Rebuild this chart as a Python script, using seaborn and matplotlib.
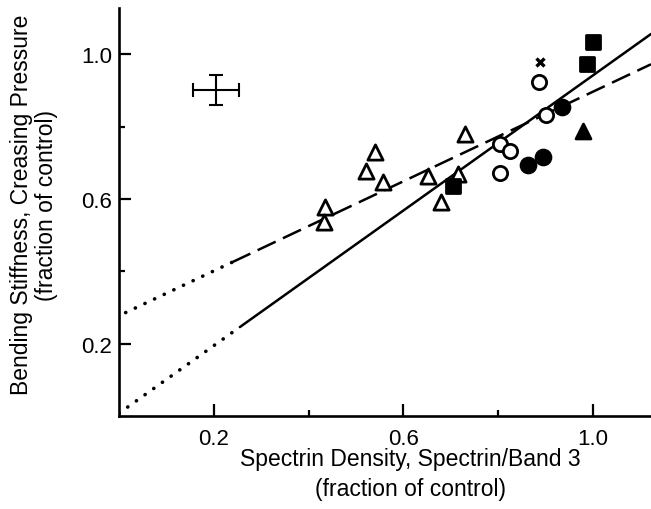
import matplotlib
matplotlib.use('Agg')
import matplotlib.pyplot as plt
import numpy as np
import pandas as pd
import seaborn as sns

# open triangles
tri_open_x = [0.434, 0.432, 0.541, 0.522, 0.556, 0.652, 0.679, 0.715, 0.730]
tri_open_y = [0.578, 0.537, 0.730, 0.677, 0.648, 0.663, 0.592, 0.669, 0.779]
# open circles
circ_open_x = [0.887, 0.902, 0.803, 0.824, 0.803]
circ_open_y = [0.923, 0.832, 0.752, 0.732, 0.672]
# filled circles
circ_fill_x = [0.934, 0.862, 0.894]
circ_fill_y = [0.853, 0.694, 0.716]
# filled squares
sq_fill_x = [0.705, 1.001, 0.988]
sq_fill_y = [0.636, 1.033, 0.972]
# filled triangle
tri_fill_x = [0.980]
tri_fill_y = [0.788]
# cross marker
cross_x = [0.889]
cross_y = [0.978]

# typical error bars
err_x, err_y = 0.205, 0.901
err_dx, err_dy = 0.048, 0.041

# fitted lines: slope, intercept, dotted range start, solid/dashed start, end
solid_fit = dict(slope=0.932, icpt=0.009, x0=0.0, x1=0.255, x2=1.1225)
dash_fit = dict(slope=0.618, icpt=0.278, x0=0.014, x1=0.239, x2=1.1225)

sns.set_style('ticks')
plt.rcParams['font.family'] = ['Liberation Sans', 'DejaVu Sans']
for key in ['text.color', 'axes.labelcolor', 'xtick.color', 'ytick.color',
            'axes.edgecolor']:
  plt.rcParams[key] = 'black'

fig = plt.figure(figsize=(6.51, 5.10), dpi=100)
ax = fig.add_axes([0.1828, 0.1814, 0.8172, 0.801])

lw = 1.8
for fit, style in [(solid_fit, '-'), (dash_fit, (0, (8, 3.2)))]:
  xs_dot = np.array([fit['x0'], fit['x1']])
  xs_main = np.array([fit['x1'], fit['x2']])
  ax.plot(xs_dot, fit['icpt'] + fit['slope'] * xs_dot, color='black', lw=2.6,
          linestyle=(0, (0.05, 2.9)), dash_capstyle='round')
  ax.plot(xs_main, fit['icpt'] + fit['slope'] * xs_main, color='black', lw=lw,
          linestyle=style)

groups = [
  (tri_open_x, tri_open_y, '^', 'white', 120),
  (circ_open_x, circ_open_y, 'o', 'white', 105),
  (circ_fill_x, circ_fill_y, 'o', 'black', 115),
  (sq_fill_x, sq_fill_y, 's', 'black', 90),
  (tri_fill_x, tri_fill_y, '^', 'black', 115),
]
for gx, gy, mk, fc, size in groups:
  df = pd.DataFrame({'x': gx, 'y': gy})
  sns.scatterplot(data=df, x='x', y='y', marker=mk, s=size, color=fc,
                  edgecolor='black', linewidth=2.0, ax=ax, zorder=3)

ax.plot(cross_x, cross_y, marker='x', linestyle='None', color='black',
        markersize=6, markeredgewidth=2.4, zorder=3)

ax.errorbar([err_x], [err_y], xerr=[err_dx], yerr=[err_dy], fmt='none',
            ecolor='black', elinewidth=1.5, capsize=5, capthick=1.5)

ax.set_xlim(0.0, 1.1225)
ax.set_ylim(0.0, 1.127)
ax.set_xticks([0.2, 0.6, 1.0])
ax.set_xticks([0.4, 0.8], minor=True)
ax.set_yticks([0.2, 0.6, 1.0])
ax.set_yticks([0.4, 0.8], minor=True)
ax.set_xticklabels(['0.2', '0.6', '1.0'])
ax.set_yticklabels(['0.2', '0.6', '1.0'])
ax.tick_params(which='major', direction='in', length=8.5, width=1.6,
               labelsize=16)
ax.tick_params(axis='x', which='major', pad=8)
ax.tick_params(axis='y', which='major', pad=5)
ax.tick_params(which='minor', direction='in', length=4.3, width=1.6)

for side in ['top', 'right']:
  ax.spines[side].set_visible(False)
for side in ['left', 'bottom']:
  ax.spines[side].set_linewidth(1.9)

ax.set_xlabel('Spectrin Density, Spectrin/Band 3\n(fraction of control)',
              fontsize=16.5, linespacing=1.4)
ax.xaxis.set_label_coords(0.547, -0.075, transform=ax.transAxes)
ax.xaxis.label.set_va('top')
ax.set_ylabel('Bending Stiffness, Creasing Pressure\n(fraction of control)',
              fontsize=16.5, linespacing=1.1)
ax.yaxis.set_label_coords(-0.115, 0.52, transform=ax.transAxes)

plt.savefig('out.png', dpi=100)
